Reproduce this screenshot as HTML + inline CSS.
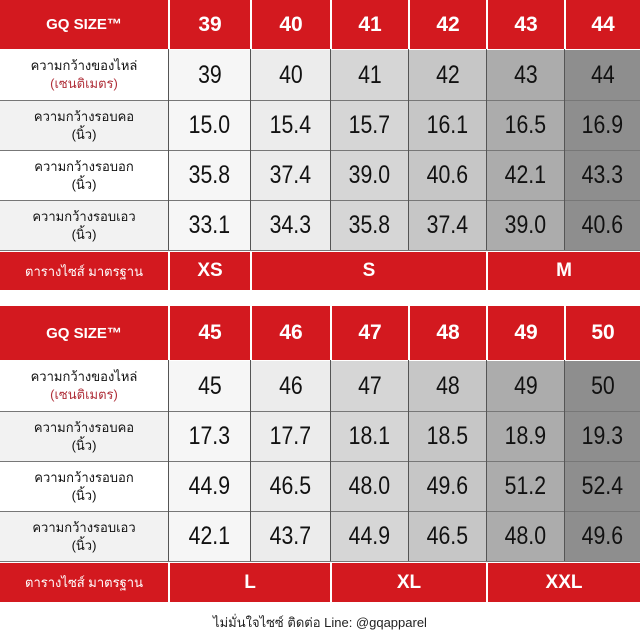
<!DOCTYPE html>
<html><head><meta charset="utf-8"><style>
body{margin:0;width:640px;height:640px;background:#fff;position:relative;overflow:hidden;font-family:"Liberation Sans","Noto Sans CJK SC",sans-serif}
.c{position:absolute;box-sizing:border-box;display:flex;align-items:center;justify-content:center;text-align:center}
.r{background:#d3191f;color:#fff;font-weight:bold}
.h{font-size:21px}
.n{font-size:25px;color:#111}
.n span{display:inline-block;transform:scaleX(0.85)}
.l{font-size:13px;color:#111;line-height:18px;flex-direction:column}
.f{font-size:13px;color:#fff;font-weight:normal}
.foot{position:absolute;top:612px;left:0;width:640px;text-align:center;font-size:13px;color:#222}
</style></head><body>
<div id="t1"></div><div id="t2"></div>
<div class="foot">ไม่มั่นใจไซซ์ ติดต่อ Line: @gqapparel</div>
<script>
var xs=[0,168,250,330,408,486,564,640];
var bg=['#f6f6f6','#ececec','#d6d6d6','#c6c6c6','#acacac','#8e8e8e'];
var labels=[['ความกว้างของไหล่','(เซนติเมตร)'],['ความกว้างรอบคอ','(นิ้ว)'],['ความกว้างรอบอก','(นิ้ว)'],['ความกว้างรอบเอว','(นิ้ว)']];
function tbl(y0,ys,head,data,foot){
 var h='';
 h+=`<div class="c r h" style="left:0;top:${ys[0]}px;width:168px;height:${ys[1]-ys[0]}px;font-size:15px">GQ SIZE™</div>`;
 for(var i=0;i<6;i++)h+=`<div class="c r h" style="left:${xs[i+1]+2}px;top:${ys[0]}px;width:${xs[i+2]-xs[i+1]-2}px;height:${ys[1]-ys[0]}px">${head[i]}</div>`;
 for(var r=0;r<4;r++){
  var t=ys[r+1]+1,hh=ys[r+2]-ys[r+1]-1;
  h+=`<div class="c l" style="left:0;top:${t}px;width:168px;height:${hh}px;background:${r%2?'#f2f2f2':'#fff'}"><div>${labels[r][0]}</div><div style="color:${r==0?'#b0303a':'#111'}">${labels[r][1]}</div></div>`;
  for(var i=0;i<6;i++)h+=`<div class="c n" style="left:${xs[i+1]+1}px;top:${t}px;width:${xs[i+2]-xs[i+1]-1}px;height:${hh}px;background:${bg[i]}"><span>${data[r][i]}</span></div>`;
  h+=`<div style="position:absolute;left:0;top:${ys[r+2]}px;width:640px;height:1px;background:#777"></div>`;
 }
 for(var i=1;i<7;i++)h+=`<div style="position:absolute;left:${xs[i]}px;top:${ys[1]}px;width:1px;height:${ys[5]-ys[1]}px;background:#555"></div>`;
 var fy=ys[5]+2,fh=ys[6]-fy;
 h+=`<div class="c r f" style="left:0;top:${fy}px;width:168px;height:${fh}px">ตารางไซส์ มาตรฐาน</div>`;
 foot.forEach(function(f){h+=`<div class="c r h" style="left:${xs[f[0]]+2}px;top:${fy}px;width:${xs[f[1]]-xs[f[0]]-2}px;height:${fh}px;font-size:19px">${f[2]}</div>`;});
 return h;
}
document.getElementById('t1').innerHTML=tbl(0,[0,49,100,150,200,250,290],[39,40,41,42,43,44],
 [[39,40,41,42,43,44],['15.0','15.4','15.7','16.1','16.5','16.9'],['35.8','37.4','39.0','40.6','42.1','43.3'],['33.1','34.3','35.8','37.4','39.0','40.6']],
 [[1,2,'XS'],[2,5,'S'],[5,7,'M']]);
document.getElementById('t2').innerHTML=tbl(0,[306,360,411,461,511,561,602],[45,46,47,48,49,50],
 [[45,46,47,48,49,50],['17.3','17.7','18.1','18.5','18.9','19.3'],['44.9','46.5','48.0','49.6','51.2','52.4'],['42.1','43.7','44.9','46.5','48.0','49.6']],
 [[1,3,'L'],[3,5,'XL'],[5,7,'XXL']]);
</script>
</body></html>
